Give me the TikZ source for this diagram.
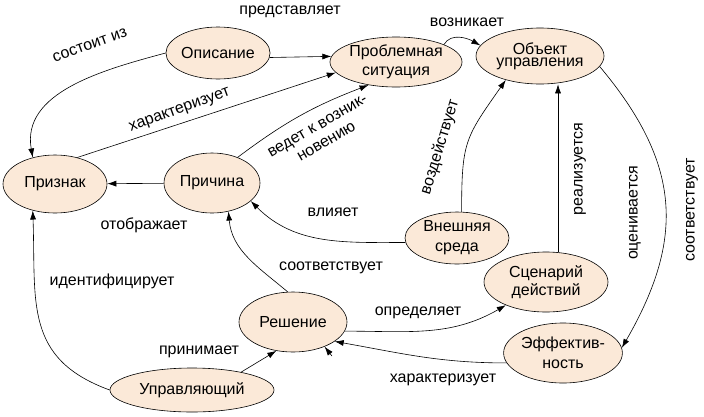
\documentclass[tikz,border=0pt]{standalone}
\usepackage{fontspec}
\setmainfont{Liberation Sans}
\usetikzlibrary{shapes.geometric,arrows.meta}
\definecolor{peach}{RGB}{251,233,216}

\begin{document}
\begin{tikzpicture}[x=1pt,y=-1pt,font=\fontsize{16}{18}\selectfont,
  elp/.style={ellipse,draw,fill=peach,inner sep=0pt,align=center,line width=0.6pt},
  arr/.style={-{Latex[length=9pt,width=6pt]},line width=0.6pt},
  lbl/.style={inner sep=0pt,align=center}]
\useasboundingbox (0,0) rectangle (704,416);
\node[elp,minimum width=98,minimum height=52] (opis) at (218,53) {Описание};
\node[elp,minimum width=122,minimum height=50] (probl) at (396,62) {Проблемная\\[1pt]ситуация};
\node[elp,minimum width=128,minimum height=56] (obj) at (540,56) {Объект\\[-6pt]управления};
\node[elp,minimum width=104,minimum height=58] (priz) at (55,184) {Признак};
\node[elp,minimum width=96,minimum height=60] (prich) at (212,183) {Причина};
\node[elp,minimum width=104,minimum height=52] (vnesh) at (457,238) {Внешняя\\[2pt]среда};
\node[elp,minimum width=124,minimum height=60] (scen) at (546,282) {Сценарий\\действий};
\node[elp,minimum width=108,minimum height=60] (resh) at (293,322) {Решение};
\node[elp,minimum width=108,minimum height=60] (eff) at (563,353) {Эффектив-\\[2pt]ность};
\node[elp,minimum width=164,minimum height=44] (upr) at (192,390) {Управляющий};

\draw[arr] (opis.-5) -- (probl.175);
\draw[arr] (opis.west) to[out=195,in=100] (priz.130);
\draw[arr] (priz.50) -- (probl.190);
\draw[arr] (prich.45) to[bend left=8] (probl.220);
\draw[arr] (prich) -- (priz);
\draw[arr] (probl.20) to[out=60,in=150] (obj.170);
\draw[arr] (vnesh.80) to[out=90,in=235,looseness=1.3] (obj.215);
\draw[arr] (vnesh.185) to[out=180,in=-45] (prich.-25);
\draw[arr] (scen.68) -- (scen.68 |- obj.south);
\draw[arr] (obj.-10) to[out=-50,in=60,looseness=1.15] (eff.5);
\draw[arr] (resh.-10) to[out=0,in=210] (scen.210);
\draw[arr] (eff.190) to[out=180,in=-10] (resh.-25);
\coordinate (stray) at (332,356);
\draw[arr] (stray) -- (resh.-38);
\draw[arr] (resh.100) to[out=140,in=-85] (prich.-60);
\draw[arr] (upr.20) -- (resh.-120);
\draw[arr] (upr.west) to[out=160,in=-88,looseness=1.2] (priz.-130);

\node[lbl] (tPredst) at (290,12) {представляет};
\node[lbl,rotate=20] (tSost) at (90,45) {состоит из};
\node[lbl,rotate=20] (tHarakt) at (180,111) {характеризует};
\node[lbl,rotate=30] (tVedet) at (322,134) {ведет к возник-\\новению};
\node[lbl] (tVozn) at (467,22) {возникает};
\node[lbl,rotate=73] (tVozd) at (440,147) {воздействует};
\node[lbl,rotate=90] (tReal) at (580,169) {реализуется};
\node[lbl,rotate=90] (tOcen) at (635,213) {оценивается};
\node[lbl,rotate=90] (tSootvR) at (692,210) {соответствует};
\node[lbl] (tOtobr) at (144,225) {отображает};
\node[lbl] (tVliyaet) at (333,212) {влияет};
\node[lbl] (tIdent) at (112,281) {идентифицирует};
\node[lbl] (tSootvM) at (331,268) {соответствует};
\node[lbl] (tOpred) at (418,313) {определяет};
\node[lbl] (tPrinim) at (199,352) {принимает};
\node[lbl] (tHaraktB) at (443,380) {характеризует};
\end{tikzpicture}
\end{document}
